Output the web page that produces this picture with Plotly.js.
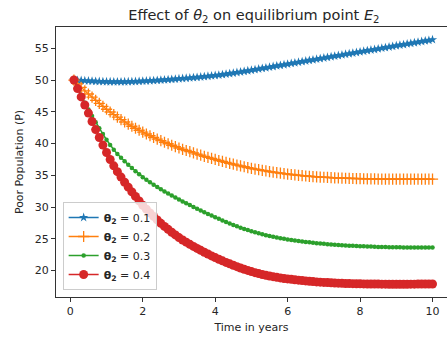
<!DOCTYPE html>
<html>
<head>
<meta charset="utf-8">
<script src="https://cdn.plot.ly/plotly-3.0.1.min.js"></script>
<style>
html,body{margin:0;padding:0;background:#fff;overflow:hidden;}
#chart{width:447px;height:340px;}
</style>
</head>
<body>
<div id="chart"></div>
<script>
const time = [0.1,0.2,0.3,0.4,0.5,0.6,0.7,0.8,0.9,1.0,
1.1,1.2,1.3,1.4,1.5,1.6,1.7,1.8,1.9,2.0,
2.1,2.2,2.3,2.4,2.5,2.6,2.7,2.8,2.9,3.0,
3.1,3.2,3.3,3.4,3.5,3.6,3.7,3.8,3.9,4.0,
4.1,4.2,4.3,4.4,4.5,4.6,4.7,4.8,4.9,5.0,
5.1,5.2,5.3,5.4,5.5,5.6,5.7,5.8,5.9,6.0,
6.1,6.2,6.3,6.4,6.5,6.6,6.7,6.8,6.9,7.0,
7.1,7.2,7.3,7.4,7.5,7.6,7.7,7.8,7.9,8.0,
8.1,8.2,8.3,8.4,8.5,8.6,8.7,8.8,8.9,9.0,
9.1,9.2,9.3,9.4,9.5,9.6,9.7,9.8,9.9,10.0];

const theta01 = [50.00,49.96,49.93,49.89,49.86,49.83,49.80,49.78,49.76,49.74,
49.73,49.72,49.72,49.72,49.73,49.74,49.76,49.78,49.80,49.83,
49.86,49.89,49.92,49.96,50.00,50.04,50.08,50.12,50.16,50.21,
50.25,50.29,50.34,50.38,50.43,50.48,50.54,50.60,50.66,50.72,
50.79,50.86,50.94,51.02,51.10,51.19,51.28,51.37,51.46,51.55,
51.65,51.74,51.84,51.93,52.03,52.13,52.23,52.32,52.42,52.52,
52.62,52.71,52.81,52.90,53.00,53.10,53.19,53.29,53.38,53.48,
53.58,53.67,53.77,53.86,53.96,54.06,54.15,54.25,54.34,54.44,
54.54,54.63,54.73,54.82,54.92,55.02,55.11,55.21,55.30,55.40,
55.50,55.59,55.69,55.78,55.88,55.98,56.07,56.17,56.26,56.36];

const theta02 = [50.00,49.40,48.84,48.31,47.80,47.30,46.81,46.33,45.86,45.40,
44.97,44.56,44.16,43.77,43.40,43.06,42.73,42.41,42.10,41.80,
41.51,41.23,40.96,40.70,40.45,40.21,39.97,39.74,39.52,39.30,
39.10,38.91,38.72,38.53,38.35,38.17,38.00,37.83,37.66,37.50,
37.34,37.19,37.04,36.89,36.75,36.61,36.48,36.35,36.22,36.10,
35.99,35.89,35.79,35.69,35.60,35.51,35.43,35.35,35.27,35.20,
35.13,35.07,35.01,34.95,34.90,34.85,34.81,34.77,34.73,34.70,
34.67,34.64,34.61,34.58,34.56,34.54,34.52,34.50,34.48,34.47,
34.46,34.45,34.44,34.43,34.42,34.41,34.41,34.40,34.40,34.40,
34.40,34.40,34.40,34.40,34.40,34.40,34.40,34.40,34.40,34.40];

const theta03 = [50.00,48.75,47.55,46.43,45.37,44.35,43.37,42.42,41.50,40.60,
39.76,39.02,38.36,37.76,37.20,36.66,36.15,35.66,35.17,34.70,
34.29,33.90,33.52,33.15,32.80,32.47,32.14,31.82,31.51,31.20,
30.90,30.61,30.32,30.03,29.75,29.47,29.20,28.93,28.66,28.40,
28.15,27.90,27.66,27.43,27.20,26.98,26.77,26.57,26.38,26.20,
26.03,25.87,25.72,25.58,25.45,25.33,25.22,25.11,25.01,24.92,
24.83,24.75,24.67,24.59,24.52,24.45,24.39,24.33,24.27,24.22,
24.17,24.12,24.08,24.04,24.00,23.96,23.93,23.90,23.87,23.84,
23.82,23.80,23.78,23.76,23.74,23.73,23.71,23.70,23.69,23.68,
23.67,23.66,23.66,23.65,23.65,23.64,23.64,23.64,23.64,23.64];

const theta04 = [50.00,48.65,47.35,46.07,44.80,43.48,42.20,40.96,39.76,38.60,
37.50,36.50,35.58,34.72,33.92,33.14,32.39,31.68,30.98,30.30,
29.68,29.09,28.53,27.98,27.45,26.96,26.50,26.05,25.62,25.20,
24.83,24.48,24.14,23.81,23.50,23.20,22.90,22.61,22.32,22.05,
21.79,21.54,21.30,21.07,20.85,20.63,20.42,20.22,20.03,19.85,
19.68,19.53,19.39,19.26,19.15,19.05,18.95,18.86,18.77,18.70,
18.63,18.56,18.50,18.44,18.38,18.33,18.28,18.23,18.19,18.15,
18.12,18.09,18.06,18.03,18.00,17.98,17.96,17.95,17.93,17.92,
17.91,17.90,17.89,17.89,17.88,17.87,17.87,17.86,17.86,17.86,
17.86,17.86,17.86,17.87,17.87,17.88,17.88,17.89,17.89,17.90];

const seriesNames = ['<b>θ<sub>2</sub></b> = 0.1','<b>θ<sub>2</sub></b> = 0.2','<b>θ<sub>2</sub></b> = 0.3','<b>θ<sub>2</sub></b> = 0.4'];
const xTicks = [0,2,4,6,8,10];
const yTicks = [20,25,30,35,40,45,50,55];

const font = 'DejaVu Sans, sans-serif';
const txt = '#262626';

const traces = [
  {x: time, y: theta01, name: seriesNames[0], type:'scatter', mode:'lines+markers',
   line:{color:'#1f77b4', width:1.5},
   marker:{symbol:'star', size:7, color:'#1f77b4', line:{width:0}}},
  {x: time, y: theta02, name: seriesNames[1], type:'scatter', mode:'lines+markers',
   line:{color:'#ff7f0e', width:1.5},
   marker:{symbol:'cross-thin-open', size:8, color:'#ff7f0e', line:{width:1.3, color:'#ff7f0e'}}},
  {x: time, y: theta03, name: seriesNames[2], type:'scatter', mode:'lines+markers',
   line:{color:'#2ca02c', width:1.5},
   marker:{symbol:'circle', size:4.5, color:'#2ca02c', line:{width:0}}},
  {x: time, y: theta04, name: seriesNames[3], type:'scatter', mode:'lines+markers',
   line:{color:'#d62728', width:1.5},
   marker:{symbol:'circle', size:9, color:'#d62728', line:{width:0}}}
];

const layout = {
  width: 447, height: 340, autosize:false,
  margin:{l:56, r:0, t:27, b:43, pad:0},
  paper_bgcolor:'#ffffff', plot_bgcolor:'#ffffff',
  font:{family:font, size:11, color:txt},
  showlegend:true,
  title:{text:'Effect of <i>θ</i><sub>2</sub> on equilibrium point <i>E</i><sub>2</sub>',
         font:{family:font, size:14.5, color:txt},
         x:0.568, xref:'container', xanchor:'center', y:0.955, yref:'container', yanchor:'middle'},
  xaxis:{range:[-0.395,10.40], tickvals:xTicks, ticktext:xTicks.map(String),
         showgrid:false, zeroline:false, showline:true, linecolor:'#333', linewidth:1, mirror:true,
         ticks:'outside', ticklen:4, tickwidth:1, tickcolor:'#333',
         tickfont:{family:font, size:11, color:txt},
         title:{text:'Time in years', font:{family:font, size:11, color:txt}, standoff:6}},
  yaxis:{range:[15.85,58.35], tickvals:yTicks, ticktext:yTicks.map(String),
         showgrid:false, zeroline:false, showline:true, linecolor:'#333', linewidth:1, mirror:false,
         ticks:'outside', ticklen:4, tickwidth:1, tickcolor:'#333',
         tickfont:{family:font, size:11, color:txt},
         title:{text:'Poor Population (P)', font:{family:font, size:11, color:txt}, standoff:8}},
  legend:{x:0.017, y:0.026, xanchor:'left', yanchor:'bottom',
          bgcolor:'rgba(255,255,255,0.8)', bordercolor:'#cccccc', borderwidth:1,
          font:{family:font, size:11, color:txt}, itemwidth:30, tracegroupgap:0}
};

Plotly.newPlot('chart', traces, layout, {staticPlot:true, displayModeBar:false});
</script>
</body>
</html>
